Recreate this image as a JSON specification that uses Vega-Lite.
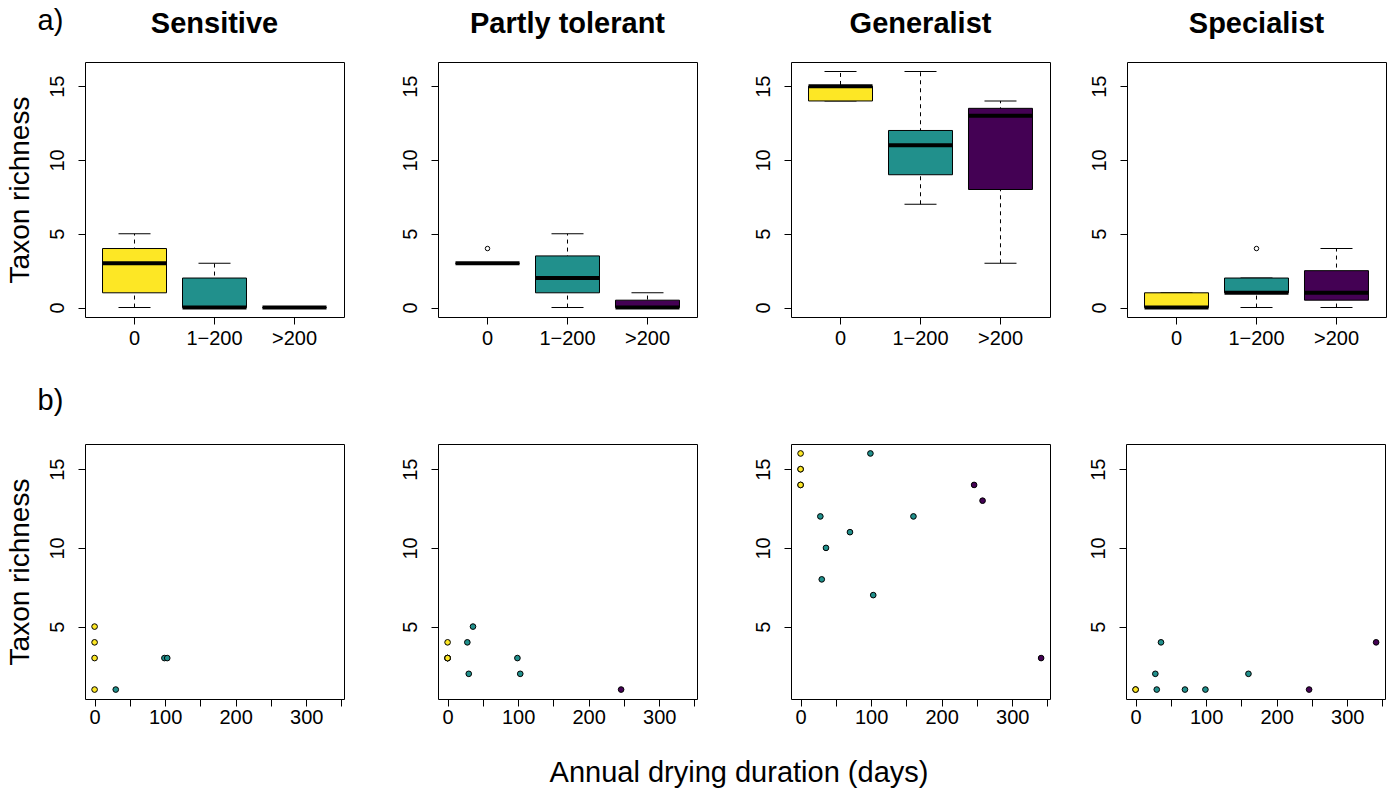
{
  "$schema": "https://vega.github.io/schema/vega-lite/v6.json",
  "background": "white",
  "padding": {"left": 5, "top": 6, "right": 5, "bottom": 5},
  "config": {
    "font": "Liberation Sans",
    "view": {"stroke": "black", "strokeWidth": 1},
    "axis": {"domain": false, "grid": false, "tickColor": "black", "tickSize": 7, "tickWidth": 1, "labelFontSize": 20, "labelColor": "black", "labelFont": "Liberation Sans", "labelPadding": 4, "labelFlush": false, "labelOverlap": false, "titleFontSize": 28, "titleFontWeight": "normal", "titleColor": "black", "titleFont": "Liberation Sans", "titlePadding": 13},
    "axisY": {"labelAngle": 270, "labelAlign": "center", "labelBaseline": "bottom", "labelPadding": 11},
    "axisX": {"labelAngle": 0},
    "title": {"fontSize": 29, "fontWeight": "bold", "color": "black", "font": "Liberation Sans", "baseline": "alphabetic", "offset": 23}
  },
  "datasets": {
    "boxes": [
      {"group": "Sensitive", "drying": "0", "lower": 0, "q1": 1, "median": 3, "q3": 4, "upper": 5, "outlier": null},
      {"group": "Sensitive", "drying": "1−200", "lower": 0, "q1": 0, "median": 0, "q3": 2, "upper": 3, "outlier": null},
      {"group": "Sensitive", "drying": ">200", "lower": 0, "q1": 0, "median": 0, "q3": 0, "upper": 0, "outlier": null},
      {"group": "Partly tolerant", "drying": "0", "lower": 3, "q1": 3, "median": 3, "q3": 3, "upper": 3, "outlier": 4},
      {"group": "Partly tolerant", "drying": "1−200", "lower": 0, "q1": 1, "median": 2, "q3": 3.5, "upper": 5, "outlier": null},
      {"group": "Partly tolerant", "drying": ">200", "lower": 0, "q1": 0, "median": 0, "q3": 0.5, "upper": 1, "outlier": null},
      {"group": "Generalist", "drying": "0", "lower": 14, "q1": 14, "median": 15, "q3": 15, "upper": 16, "outlier": null},
      {"group": "Generalist", "drying": "1−200", "lower": 7, "q1": 9, "median": 11, "q3": 12, "upper": 16, "outlier": null},
      {"group": "Generalist", "drying": ">200", "lower": 3, "q1": 8, "median": 13, "q3": 13.5, "upper": 14, "outlier": null},
      {"group": "Specialist", "drying": "0", "lower": 0, "q1": 0, "median": 0, "q3": 1, "upper": 1, "outlier": null},
      {"group": "Specialist", "drying": "1−200", "lower": 0, "q1": 1, "median": 1, "q3": 2, "upper": 2, "outlier": 4},
      {"group": "Specialist", "drying": ">200", "lower": 0, "q1": 0.5, "median": 1, "q3": 2.5, "upper": 4, "outlier": null}
    ],
    "points": [
      {"group": "Sensitive", "drying": "0", "days": 0, "richness": 5},
      {"group": "Sensitive", "drying": "0", "days": 0, "richness": 4},
      {"group": "Sensitive", "drying": "0", "days": 0, "richness": 3},
      {"group": "Sensitive", "drying": "0", "days": 0, "richness": 1},
      {"group": "Sensitive", "drying": "1−200", "days": 30, "richness": 1},
      {"group": "Sensitive", "drying": "1−200", "days": 99, "richness": 3},
      {"group": "Sensitive", "drying": "1−200", "days": 103, "richness": 3},
      {"group": "Partly tolerant", "drying": "0", "days": 0, "richness": 4},
      {"group": "Partly tolerant", "drying": "0", "days": 0, "richness": 3},
      {"group": "Partly tolerant", "drying": "0", "days": 0, "richness": 3},
      {"group": "Partly tolerant", "drying": "0", "days": 0, "richness": 3},
      {"group": "Partly tolerant", "drying": "0", "days": 0, "richness": 3},
      {"group": "Partly tolerant", "drying": "1−200", "days": 36, "richness": 5},
      {"group": "Partly tolerant", "drying": "1−200", "days": 28, "richness": 4},
      {"group": "Partly tolerant", "drying": "1−200", "days": 30, "richness": 2},
      {"group": "Partly tolerant", "drying": "1−200", "days": 99, "richness": 3},
      {"group": "Partly tolerant", "drying": "1−200", "days": 103, "richness": 2},
      {"group": "Partly tolerant", "drying": ">200", "days": 246, "richness": 1},
      {"group": "Generalist", "drying": "0", "days": 0, "richness": 16},
      {"group": "Generalist", "drying": "0", "days": 0, "richness": 15},
      {"group": "Generalist", "drying": "0", "days": 0, "richness": 15},
      {"group": "Generalist", "drying": "0", "days": 0, "richness": 14},
      {"group": "Generalist", "drying": "0", "days": 0, "richness": 14},
      {"group": "Generalist", "drying": "1−200", "days": 99, "richness": 16},
      {"group": "Generalist", "drying": "1−200", "days": 28, "richness": 12},
      {"group": "Generalist", "drying": "1−200", "days": 70, "richness": 11},
      {"group": "Generalist", "drying": "1−200", "days": 36, "richness": 10},
      {"group": "Generalist", "drying": "1−200", "days": 30, "richness": 8},
      {"group": "Generalist", "drying": "1−200", "days": 103, "richness": 7},
      {"group": "Generalist", "drying": "1−200", "days": 160, "richness": 12},
      {"group": "Generalist", "drying": ">200", "days": 246, "richness": 14},
      {"group": "Generalist", "drying": ">200", "days": 258, "richness": 13},
      {"group": "Generalist", "drying": ">200", "days": 341, "richness": 3},
      {"group": "Specialist", "drying": "0", "days": 0, "richness": 1},
      {"group": "Specialist", "drying": "0", "days": 0, "richness": 1},
      {"group": "Specialist", "drying": "1−200", "days": 36, "richness": 4},
      {"group": "Specialist", "drying": "1−200", "days": 28, "richness": 2},
      {"group": "Specialist", "drying": "1−200", "days": 30, "richness": 1},
      {"group": "Specialist", "drying": "1−200", "days": 70, "richness": 1},
      {"group": "Specialist", "drying": "1−200", "days": 99, "richness": 1},
      {"group": "Specialist", "drying": "1−200", "days": 160, "richness": 2},
      {"group": "Specialist", "drying": ">200", "days": 246, "richness": 1},
      {"group": "Specialist", "drying": ">200", "days": 341, "richness": 4}
    ]
  },
  "title": {"text": "Annual drying duration (days)", "orient": "bottom", "anchor": "middle", "fontSize": 29, "fontWeight": "normal", "baseline": "top", "offset": 31, "dx": 43},
  "resolve": {"scale": {"x": "independent", "y": "independent", "color": "independent"}},
  "spacing": 37,
  "vconcat": [
    {
      "title": {"text": "a)", "anchor": "start", "frame": "bounds", "fontSize": 29, "fontWeight": "normal", "baseline": "alphabetic", "offset": 0, "dx": 32, "dy": 49},
      "spacing": 37,
      "resolve": {"scale": {"x": "independent", "y": "independent", "color": "independent"}},
      "hconcat": [
        {
          "spacing": 54,
          "resolve": {"scale": {"x": "independent", "y": "independent", "color": "independent"}},
          "hconcat": [
            {
              "width": 259, "height": 255,
              "title": {"text": "Sensitive"},
              "data": {"name": "boxes"},
              "transform": [{"filter": "datum.group === 'Sensitive'"}],
              "encoding": {"x": {"field": "drying", "type": "nominal", "sort": ["0", "1−200", ">200"], "scale": {"domain": ["0", "1−200", ">200"], "paddingInner": 0.2, "paddingOuter": 0.219}, "axis": {"title": null, "bandPosition": 0.5}}},
              "layer": [
                {"mark": {"type": "rule", "color": "black", "strokeWidth": 1, "strokeDash": [4, 4]}, "encoding": {"y": {"field": "lower", "type": "quantitative", "scale": {"domain": [-0.64, 16.64], "nice": false, "zero": false}, "axis": {"values": [0, 5, 10, 15], "title": "Taxon richness"}}, "y2": {"field": "upper"}}},
                {"mark": {"type": "tick", "color": "black", "thickness": 1, "size": 32, "opacity": 1}, "encoding": {"y": {"field": "lower", "type": "quantitative", "scale": {"domain": [-0.64, 16.64], "nice": false, "zero": false}, "axis": {"values": [0, 5, 10, 15], "title": "Taxon richness"}}}},
                {"mark": {"type": "tick", "color": "black", "thickness": 1, "size": 32, "opacity": 1}, "encoding": {"y": {"field": "upper", "type": "quantitative", "scale": {"domain": [-0.64, 16.64], "nice": false, "zero": false}, "axis": {"values": [0, 5, 10, 15], "title": "Taxon richness"}}}},
                {"mark": {"type": "bar", "stroke": "black", "strokeWidth": 1, "opacity": 1}, "encoding": {"y": {"field": "q1", "type": "quantitative", "scale": {"domain": [-0.64, 16.64], "nice": false, "zero": false}, "axis": {"values": [0, 5, 10, 15], "title": "Taxon richness"}}, "y2": {"field": "q3"}, "color": {"field": "drying", "type": "nominal", "scale": {"domain": ["0", "1−200", ">200"], "range": ["#FDE725", "#21908C", "#440154"]}, "legend": null}}},
                {"mark": {"type": "tick", "color": "black", "thickness": 4, "size": 64, "opacity": 1}, "encoding": {"y": {"field": "median", "type": "quantitative", "scale": {"domain": [-0.64, 16.64], "nice": false, "zero": false}, "axis": {"values": [0, 5, 10, 15], "title": "Taxon richness"}}}},
                {"mark": {"type": "point", "shape": "circle", "filled": false, "color": "black", "size": 20, "strokeWidth": 1, "opacity": 1}, "encoding": {"y": {"field": "outlier", "type": "quantitative", "scale": {"domain": [-0.64, 16.64], "nice": false, "zero": false}, "axis": {"values": [0, 5, 10, 15], "title": "Taxon richness"}}}}
              ]
            },
            {
              "width": 259, "height": 255,
              "title": {"text": "Partly tolerant"},
              "data": {"name": "boxes"},
              "transform": [{"filter": "datum.group === 'Partly tolerant'"}],
              "encoding": {"x": {"field": "drying", "type": "nominal", "sort": ["0", "1−200", ">200"], "scale": {"domain": ["0", "1−200", ">200"], "paddingInner": 0.2, "paddingOuter": 0.219}, "axis": {"title": null, "bandPosition": 0.5}}},
              "layer": [
                {"mark": {"type": "rule", "color": "black", "strokeWidth": 1, "strokeDash": [4, 4]}, "encoding": {"y": {"field": "lower", "type": "quantitative", "scale": {"domain": [-0.64, 16.64], "nice": false, "zero": false}, "axis": {"values": [0, 5, 10, 15], "title": null}}, "y2": {"field": "upper"}}},
                {"mark": {"type": "tick", "color": "black", "thickness": 1, "size": 32, "opacity": 1}, "encoding": {"y": {"field": "lower", "type": "quantitative", "scale": {"domain": [-0.64, 16.64], "nice": false, "zero": false}, "axis": {"values": [0, 5, 10, 15], "title": null}}}},
                {"mark": {"type": "tick", "color": "black", "thickness": 1, "size": 32, "opacity": 1}, "encoding": {"y": {"field": "upper", "type": "quantitative", "scale": {"domain": [-0.64, 16.64], "nice": false, "zero": false}, "axis": {"values": [0, 5, 10, 15], "title": null}}}},
                {"mark": {"type": "bar", "stroke": "black", "strokeWidth": 1, "opacity": 1}, "encoding": {"y": {"field": "q1", "type": "quantitative", "scale": {"domain": [-0.64, 16.64], "nice": false, "zero": false}, "axis": {"values": [0, 5, 10, 15], "title": null}}, "y2": {"field": "q3"}, "color": {"field": "drying", "type": "nominal", "scale": {"domain": ["0", "1−200", ">200"], "range": ["#FDE725", "#21908C", "#440154"]}, "legend": null}}},
                {"mark": {"type": "tick", "color": "black", "thickness": 4, "size": 64, "opacity": 1}, "encoding": {"y": {"field": "median", "type": "quantitative", "scale": {"domain": [-0.64, 16.64], "nice": false, "zero": false}, "axis": {"values": [0, 5, 10, 15], "title": null}}}},
                {"mark": {"type": "point", "shape": "circle", "filled": false, "color": "black", "size": 20, "strokeWidth": 1, "opacity": 1}, "encoding": {"y": {"field": "outlier", "type": "quantitative", "scale": {"domain": [-0.64, 16.64], "nice": false, "zero": false}, "axis": {"values": [0, 5, 10, 15], "title": null}}}}
              ]
            },
            {
              "width": 259, "height": 255,
              "title": {"text": "Generalist"},
              "data": {"name": "boxes"},
              "transform": [{"filter": "datum.group === 'Generalist'"}],
              "encoding": {"x": {"field": "drying", "type": "nominal", "sort": ["0", "1−200", ">200"], "scale": {"domain": ["0", "1−200", ">200"], "paddingInner": 0.2, "paddingOuter": 0.219}, "axis": {"title": null, "bandPosition": 0.5}}},
              "layer": [
                {"mark": {"type": "rule", "color": "black", "strokeWidth": 1, "strokeDash": [4, 4]}, "encoding": {"y": {"field": "lower", "type": "quantitative", "scale": {"domain": [-0.64, 16.64], "nice": false, "zero": false}, "axis": {"values": [0, 5, 10, 15], "title": null}}, "y2": {"field": "upper"}}},
                {"mark": {"type": "tick", "color": "black", "thickness": 1, "size": 32, "opacity": 1}, "encoding": {"y": {"field": "lower", "type": "quantitative", "scale": {"domain": [-0.64, 16.64], "nice": false, "zero": false}, "axis": {"values": [0, 5, 10, 15], "title": null}}}},
                {"mark": {"type": "tick", "color": "black", "thickness": 1, "size": 32, "opacity": 1}, "encoding": {"y": {"field": "upper", "type": "quantitative", "scale": {"domain": [-0.64, 16.64], "nice": false, "zero": false}, "axis": {"values": [0, 5, 10, 15], "title": null}}}},
                {"mark": {"type": "bar", "stroke": "black", "strokeWidth": 1, "opacity": 1}, "encoding": {"y": {"field": "q1", "type": "quantitative", "scale": {"domain": [-0.64, 16.64], "nice": false, "zero": false}, "axis": {"values": [0, 5, 10, 15], "title": null}}, "y2": {"field": "q3"}, "color": {"field": "drying", "type": "nominal", "scale": {"domain": ["0", "1−200", ">200"], "range": ["#FDE725", "#21908C", "#440154"]}, "legend": null}}},
                {"mark": {"type": "tick", "color": "black", "thickness": 4, "size": 64, "opacity": 1}, "encoding": {"y": {"field": "median", "type": "quantitative", "scale": {"domain": [-0.64, 16.64], "nice": false, "zero": false}, "axis": {"values": [0, 5, 10, 15], "title": null}}}},
                {"mark": {"type": "point", "shape": "circle", "filled": false, "color": "black", "size": 20, "strokeWidth": 1, "opacity": 1}, "encoding": {"y": {"field": "outlier", "type": "quantitative", "scale": {"domain": [-0.64, 16.64], "nice": false, "zero": false}, "axis": {"values": [0, 5, 10, 15], "title": null}}}}
              ]
            }
          ]
        },
        {
          "width": 259, "height": 255,
          "title": {"text": "Specialist"},
          "data": {"name": "boxes"},
          "transform": [{"filter": "datum.group === 'Specialist'"}],
          "encoding": {"x": {"field": "drying", "type": "nominal", "sort": ["0", "1−200", ">200"], "scale": {"domain": ["0", "1−200", ">200"], "paddingInner": 0.2, "paddingOuter": 0.219}, "axis": {"title": null, "bandPosition": 0.5}}},
          "layer": [
            {"mark": {"type": "rule", "color": "black", "strokeWidth": 1, "strokeDash": [4, 4]}, "encoding": {"y": {"field": "lower", "type": "quantitative", "scale": {"domain": [-0.64, 16.64], "nice": false, "zero": false}, "axis": {"values": [0, 5, 10, 15], "title": null}}, "y2": {"field": "upper"}}},
            {"mark": {"type": "tick", "color": "black", "thickness": 1, "size": 32, "opacity": 1}, "encoding": {"y": {"field": "lower", "type": "quantitative", "scale": {"domain": [-0.64, 16.64], "nice": false, "zero": false}, "axis": {"values": [0, 5, 10, 15], "title": null}}}},
            {"mark": {"type": "tick", "color": "black", "thickness": 1, "size": 32, "opacity": 1}, "encoding": {"y": {"field": "upper", "type": "quantitative", "scale": {"domain": [-0.64, 16.64], "nice": false, "zero": false}, "axis": {"values": [0, 5, 10, 15], "title": null}}}},
            {"mark": {"type": "bar", "stroke": "black", "strokeWidth": 1, "opacity": 1}, "encoding": {"y": {"field": "q1", "type": "quantitative", "scale": {"domain": [-0.64, 16.64], "nice": false, "zero": false}, "axis": {"values": [0, 5, 10, 15], "title": null}}, "y2": {"field": "q3"}, "color": {"field": "drying", "type": "nominal", "scale": {"domain": ["0", "1−200", ">200"], "range": ["#FDE725", "#21908C", "#440154"]}, "legend": null}}},
            {"mark": {"type": "tick", "color": "black", "thickness": 4, "size": 64, "opacity": 1}, "encoding": {"y": {"field": "median", "type": "quantitative", "scale": {"domain": [-0.64, 16.64], "nice": false, "zero": false}, "axis": {"values": [0, 5, 10, 15], "title": null}}}},
            {"mark": {"type": "point", "shape": "circle", "filled": false, "color": "black", "size": 20, "strokeWidth": 1, "opacity": 1}, "encoding": {"y": {"field": "outlier", "type": "quantitative", "scale": {"domain": [-0.64, 16.64], "nice": false, "zero": false}, "axis": {"values": [0, 5, 10, 15], "title": null}}}}
          ]
        }
      ]
    },
    {
      "title": {"text": "b)", "anchor": "start", "frame": "bounds", "fontSize": 29, "fontWeight": "normal", "baseline": "alphabetic", "offset": 5, "dx": 32},
      "spacing": 36,
      "resolve": {"scale": {"x": "independent", "y": "independent", "color": "independent"}},
      "hconcat": [
        {
          "spacing": 54,
          "resolve": {"scale": {"x": "independent", "y": "independent", "color": "independent"}},
          "hconcat": [
            {
              "width": 259, "height": 255,
              "data": {"name": "points"},
              "transform": [{"filter": "datum.group === 'Sensitive'"}],
              "mark": {"type": "point", "shape": "circle", "filled": true, "stroke": "black", "strokeWidth": 1, "size": 32, "opacity": 1},
              "encoding": {
                "x": {"field": "days", "type": "quantitative", "scale": {"domain": [-13.6, 353.6], "nice": false, "zero": false}, "axis": {"title": null, "labelPadding": 1, "values": [0, 50, 100, 150, 200, 250, 300, 350], "labelExpr": "datum.value % 100 === 0 ? datum.label : ''"}},
                "y": {"field": "richness", "type": "quantitative", "scale": {"domain": [0.4, 16.6], "nice": false, "zero": false}, "axis": {"title": "Taxon richness", "values": [5, 10, 15]}},
                "color": {"field": "drying", "type": "nominal", "scale": {"domain": ["0", "1−200", ">200"], "range": ["#FDE725", "#21908C", "#440154"]}, "legend": null}
              }
            },
            {
              "width": 259, "height": 255,
              "data": {"name": "points"},
              "transform": [{"filter": "datum.group === 'Partly tolerant'"}],
              "mark": {"type": "point", "shape": "circle", "filled": true, "stroke": "black", "strokeWidth": 1, "size": 32, "opacity": 1},
              "encoding": {
                "x": {"field": "days", "type": "quantitative", "scale": {"domain": [-13.6, 353.6], "nice": false, "zero": false}, "axis": {"title": null, "labelPadding": 1, "values": [0, 50, 100, 150, 200, 250, 300, 350], "labelExpr": "datum.value % 100 === 0 ? datum.label : ''"}},
                "y": {"field": "richness", "type": "quantitative", "scale": {"domain": [0.4, 16.6], "nice": false, "zero": false}, "axis": {"title": null, "values": [5, 10, 15]}},
                "color": {"field": "drying", "type": "nominal", "scale": {"domain": ["0", "1−200", ">200"], "range": ["#FDE725", "#21908C", "#440154"]}, "legend": null}
              }
            },
            {
              "width": 259, "height": 255,
              "data": {"name": "points"},
              "transform": [{"filter": "datum.group === 'Generalist'"}],
              "mark": {"type": "point", "shape": "circle", "filled": true, "stroke": "black", "strokeWidth": 1, "size": 32, "opacity": 1},
              "encoding": {
                "x": {"field": "days", "type": "quantitative", "scale": {"domain": [-13.6, 353.6], "nice": false, "zero": false}, "axis": {"title": null, "labelPadding": 1, "values": [0, 50, 100, 150, 200, 250, 300, 350], "labelExpr": "datum.value % 100 === 0 ? datum.label : ''"}},
                "y": {"field": "richness", "type": "quantitative", "scale": {"domain": [0.4, 16.6], "nice": false, "zero": false}, "axis": {"title": null, "values": [5, 10, 15]}},
                "color": {"field": "drying", "type": "nominal", "scale": {"domain": ["0", "1−200", ">200"], "range": ["#FDE725", "#21908C", "#440154"]}, "legend": null}
              }
            }
          ]
        },
        {
          "width": 259, "height": 255,
          "data": {"name": "points"},
          "transform": [{"filter": "datum.group === 'Specialist'"}],
          "mark": {"type": "point", "shape": "circle", "filled": true, "stroke": "black", "strokeWidth": 1, "size": 32, "opacity": 1},
          "encoding": {
            "x": {"field": "days", "type": "quantitative", "scale": {"domain": [-13.6, 353.6], "nice": false, "zero": false}, "axis": {"title": null, "labelPadding": 1, "values": [0, 50, 100, 150, 200, 250, 300, 350], "labelExpr": "datum.value % 100 === 0 ? datum.label : ''"}},
            "y": {"field": "richness", "type": "quantitative", "scale": {"domain": [0.4, 16.6], "nice": false, "zero": false}, "axis": {"title": null, "values": [5, 10, 15]}},
            "color": {"field": "drying", "type": "nominal", "scale": {"domain": ["0", "1−200", ">200"], "range": ["#FDE725", "#21908C", "#440154"]}, "legend": null}
          }
        }
      ]
    }
  ]
}
